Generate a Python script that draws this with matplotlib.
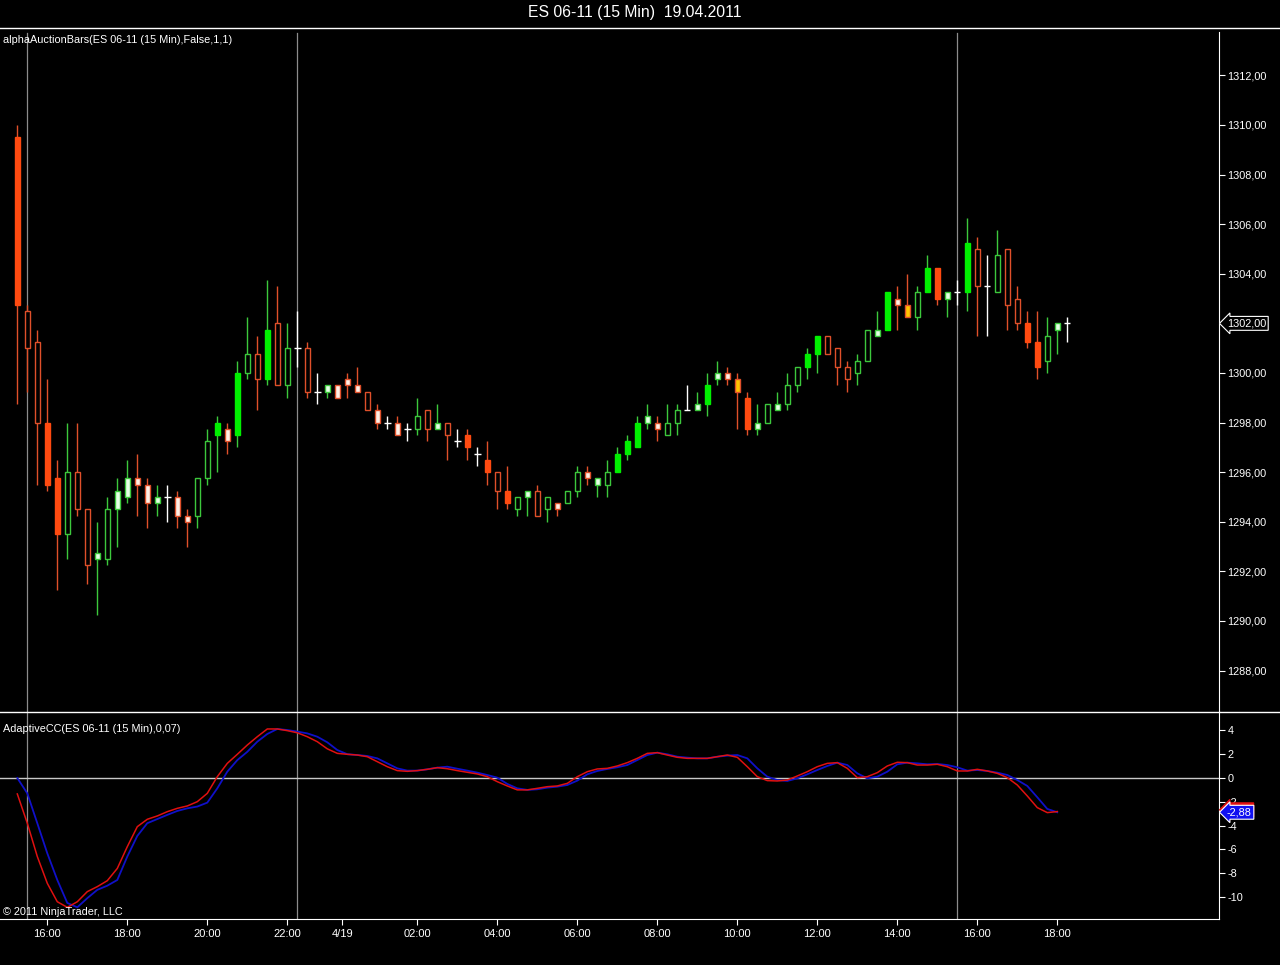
import numpy as np
import matplotlib
matplotlib.use("Agg")
import matplotlib.pyplot as plt
from matplotlib.lines import Line2D
import matplotlib.transforms as mtransforms

plt.rcParams['font.family'] = ['Liberation Sans', 'DejaVu Sans']

# ---------------- data ----------------
opens = [1309.5, 1302.5, 1301.25, 1298.0, 1295.75, 1293.5, 1296.0, 1294.5, 1292.5, 1292.5,
         1294.5, 1295.0, 1295.75, 1295.5, 1294.75, 1295.0, 1295.0, 1294.25, 1294.25, 1295.75,
         1297.5, 1297.75, 1297.5, 1300.0, 1300.75, 1299.75, 1302.0, 1299.5, 1301.0, 1301.0,
         1299.25, 1299.25, 1299.5, 1299.75, 1299.5, 1299.25, 1298.5, 1298.0, 1298.0, 1297.75,
         1297.75, 1298.5, 1297.75, 1298.0, 1297.25, 1297.5, 1296.75, 1296.5, 1296.0, 1295.25,
         1294.5, 1295.0, 1295.25, 1294.5, 1294.75, 1294.75, 1295.25, 1296.0, 1295.5, 1295.5,
         1296.0, 1296.75, 1297.0, 1298.0, 1298.0, 1297.5, 1298.0, 1298.5, 1298.5, 1298.75,
         1299.75, 1300.0, 1299.75, 1299.0, 1297.75, 1298.0, 1298.5, 1298.75, 1299.5, 1300.25,
         1300.75, 1301.5, 1301.0, 1300.25, 1300.0, 1300.5, 1301.5, 1301.75, 1303.0, 1302.75,
         1302.25, 1303.25, 1304.25, 1303.0, 1303.25, 1303.25, 1305.0, 1303.5, 1303.25, 1305.0,
         1303.0, 1302.0, 1301.25, 1300.5, 1301.75, 1302.0]
highs = [1310.0, 1302.75, 1301.75, 1299.75, 1296.5, 1298.0, 1298.0, 1294.5, 1294.0, 1295.0,
         1295.75, 1296.5, 1296.75, 1295.75, 1295.5, 1295.5, 1295.25, 1294.5, 1295.75, 1297.75,
         1298.25, 1298.0, 1300.5, 1302.25, 1301.5, 1303.75, 1303.5, 1302.0, 1302.5, 1301.25,
         1300.0, 1299.5, 1299.5, 1300.0, 1300.25, 1299.25, 1298.75, 1298.25, 1298.25, 1298.0,
         1299.0, 1298.5, 1298.75, 1298.0, 1297.75, 1297.75, 1297.0, 1297.25, 1296.0, 1296.25,
         1295.0, 1295.25, 1295.5, 1295.0, 1294.75, 1295.25, 1296.25, 1296.25, 1295.75, 1296.5,
         1297.0, 1297.5, 1298.25, 1298.75, 1298.25, 1298.75, 1298.75, 1299.5, 1299.25, 1300.0,
         1300.5, 1300.25, 1300.0, 1299.25, 1298.75, 1298.75, 1299.25, 1300.0, 1300.25, 1301.0,
         1301.5, 1301.5, 1301.0, 1300.5, 1300.75, 1301.75, 1302.5, 1303.25, 1303.5, 1304.0,
         1303.5, 1304.75, 1304.25, 1303.25, 1303.75, 1306.25, 1305.5, 1304.75, 1305.75, 1305.0,
         1303.5, 1302.5, 1302.5, 1302.25, 1302.0, 1302.25]
lows = [1298.75, 1299.25, 1295.5, 1295.25, 1291.25, 1292.5, 1294.25, 1291.5, 1290.25, 1292.25,
        1293.0, 1294.75, 1294.25, 1293.75, 1294.25, 1294.0, 1293.75, 1293.0, 1293.75, 1295.5,
        1296.0, 1296.75, 1297.0, 1299.75, 1298.5, 1299.5, 1299.5, 1299.0, 1300.25, 1299.0,
        1298.75, 1299.0, 1299.0, 1299.0, 1299.25, 1298.5, 1297.75, 1297.75, 1297.5, 1297.25,
        1297.5, 1297.25, 1297.75, 1296.5, 1297.0, 1296.5, 1296.25, 1295.5, 1294.5, 1294.5,
        1294.25, 1294.25, 1294.25, 1294.0, 1294.25, 1294.75, 1295.0, 1295.5, 1295.0, 1295.0,
        1296.0, 1296.5, 1297.0, 1297.75, 1297.25, 1297.5, 1297.5, 1298.5, 1298.5, 1298.25,
        1299.5, 1299.5, 1297.75, 1297.5, 1297.5, 1298.0, 1298.5, 1298.5, 1299.25, 1299.75,
        1300.0, 1300.75, 1299.5, 1299.25, 1299.5, 1300.5, 1301.5, 1301.75, 1301.75, 1302.25,
        1301.75, 1303.25, 1302.75, 1302.25, 1302.75, 1302.5, 1301.5, 1301.5, 1303.25, 1301.75,
        1301.75, 1301.0, 1299.75, 1300.0, 1300.75, 1301.25]
closes = [1302.75, 1301.0, 1298.0, 1295.5, 1293.5, 1296.0, 1294.5, 1292.25, 1292.75, 1294.5,
          1295.25, 1295.75, 1295.5, 1294.75, 1295.0, 1295.0, 1294.25, 1294.0, 1295.75, 1297.25,
          1298.0, 1297.25, 1300.0, 1300.75, 1299.75, 1301.75, 1299.5, 1301.0, 1301.0, 1299.25,
          1299.25, 1299.5, 1299.0, 1299.5, 1299.25, 1298.5, 1298.0, 1298.0, 1297.5, 1297.75,
          1298.25, 1297.75, 1298.0, 1297.5, 1297.25, 1297.0, 1296.75, 1296.0, 1295.25, 1294.75,
          1295.0, 1295.25, 1294.25, 1295.0, 1294.5, 1295.25, 1296.0, 1295.75, 1295.75, 1296.0,
          1296.75, 1297.25, 1298.0, 1298.25, 1297.75, 1298.0, 1298.5, 1298.5, 1298.75, 1299.5,
          1300.0, 1299.75, 1299.25, 1297.75, 1298.0, 1298.75, 1298.75, 1299.5, 1300.25, 1300.75,
          1301.5, 1300.75, 1300.25, 1299.75, 1300.5, 1301.75, 1301.75, 1303.25, 1302.75, 1302.25,
          1303.25, 1304.25, 1303.0, 1303.25, 1303.25, 1305.25, 1303.5, 1303.5, 1304.75, 1302.75,
          1302.0, 1301.25, 1300.25, 1301.5, 1302.0, 1302.0]
# bar styles: R filled red, r hollow red, G filled green, g hollow green,
# w light fill/green edge, p light fill/red edge, y yellow fill, d doji
styles = list("RrrRRgrrwgwwppwdppggGpGgrGrgdr"
              "dwpppr" "pdpdgrwrdRdRrRgwrgpggpwgGGGwpggdwGwpyRwgwggGGrrrgg"
              "wGpygGRwdGrdgrrRRgwd")

blue = [0.0, -1.29, -3.8, -6.33, -8.57, -10.5, -10.87, -10.1, -9.4, -9.05,
        -8.57, -6.6, -4.87, -3.8, -3.45, -3.1, -2.77, -2.55, -2.4, -2.07,
        -0.87, 0.53, 1.5, 2.2, 3.05, 3.7, 4.12, 4.03, 3.9, 3.75,
        3.47, 3.0, 2.35, 2.0, 1.93, 1.85, 1.65, 1.23, 0.81, 0.62,
        0.62, 0.73, 0.87, 0.95, 0.78, 0.62, 0.45, 0.25, 0.03, -0.5,
        -0.87, -1.0, -0.95, -0.81, -0.73, -0.59, -0.22, 0.31, 0.59, 0.76,
        0.9, 1.09, 1.51, 1.93, 2.13, 1.99, 1.79, 1.71, 1.65, 1.65,
        1.79, 1.88, 1.93, 1.65, 0.81, 0.11, -0.17, -0.25, -0.03, 0.31,
        0.67, 1.01, 1.29, 1.09, 0.39, -0.03, 0.11, 0.53, 1.15, 1.29,
        1.23, 1.15, 1.18, 1.09, 0.9, 0.62, 0.67, 0.59, 0.45, 0.25,
        -0.17, -0.67, -1.62, -2.6, -2.88]
red = [-1.34, -3.8, -6.6, -8.85, -10.4, -10.87, -10.4, -9.55, -9.13, -8.63,
       -7.6, -5.77, -4.09, -3.47, -3.19, -2.83, -2.55, -2.35, -1.99, -1.29,
       0.11, 1.23, 1.99, 2.77, 3.47, 4.12, 4.12, 3.98, 3.8, 3.47,
       3.05, 2.45, 2.07, 1.99, 1.93, 1.79, 1.37, 0.95, 0.62, 0.56,
       0.62, 0.73, 0.87, 0.78, 0.62, 0.48, 0.34, 0.11, -0.31, -0.67,
       -1.0, -1.0, -0.87, -0.73, -0.67, -0.45, 0.11, 0.53, 0.76, 0.81,
       1.01, 1.29, 1.65, 2.07, 2.13, 1.93, 1.74, 1.65, 1.65, 1.65,
       1.79, 1.93, 1.74, 0.95, 0.11, -0.22, -0.25, -0.17, 0.17, 0.53,
       0.95, 1.23, 1.29, 0.81, 0.03, 0.11, 0.45, 1.01, 1.32, 1.29,
       1.09, 1.09, 1.15, 0.95, 0.59, 0.59, 0.73, 0.59, 0.39, 0.03,
       -0.59, -1.51, -2.49, -2.91, -2.82]

session_breaks = [1, 28, 94]
xtick_pos = [3, 11, 19, 27, 32.5, 40, 48, 56, 64, 72, 80, 88, 96, 104]
xtick_labels = ["16:00", "18:00", "20:00", "22:00", "4/19", "02:00", "04:00", "06:00",
                "08:00", "10:00", "12:00", "14:00", "16:00", "18:00"]
price_ticks = list(range(1288, 1313, 2))
ind_ticks = [4, 2, 0, -2, -4, -6, -8, -10]

# ---------------- figure ----------------
W, H = 1280, 965
fig = plt.figure(figsize=(W / 100, H / 100), dpi=100, facecolor='black')

def fy(y):
    return 1 - y / H

ax1 = fig.add_axes([0, fy(711), 1219 / W, 684 / H], facecolor='black')
ax2 = fig.add_axes([0, fy(919), 1219 / W, 208 / H], facecolor='black')

RED_F = '#FF4A10'
RED_E = '#E0502A'
GRN_F = '#00F000'
GRN_E = '#3CC83C'
face_map = {'R': RED_F, 'r': '#000000', 'G': GRN_F, 'g': '#000000',
            'w': '#E6FFE6', 'p': '#FFF0E6', 'y': '#FFC400', 'd': 'white'}
edge_map = {'R': RED_F, 'r': RED_E, 'G': GRN_F, 'g': GRN_E,
            'w': GRN_E, 'p': RED_E, 'y': RED_E, 'd': 'white'}
wick_map = {'R': RED_E, 'r': RED_E, 'G': GRN_E, 'g': GRN_E,
            'w': GRN_E, 'p': RED_E, 'y': RED_E, 'd': 'white'}

o = np.array(opens); h = np.array(highs); l = np.array(lows); c = np.array(closes)
x = np.arange(len(o))
st = np.array(styles)

# session lines
for b in session_breaks:
    ax1.axvline(b, ymin=0, ymax=(711 - 33) / 684, color='#8C8C8C', lw=0.9, zorder=1)
    ax2.axvline(b, color='#8C8C8C', lw=0.9, zorder=1)

# wicks
ax1.vlines(x, l, h, colors=[wick_map[s] for s in st], lw=1.0, zorder=2)
# bodies
nd = st != 'd'
ax1.bar(x[nd], np.abs(c - o)[nd], bottom=np.minimum(o, c)[nd], width=0.45,
        color=[face_map[s] for s in st[nd]], edgecolor=[edge_map[s] for s in st[nd]],
        linewidth=1.0, zorder=3)
# dojis
dd = ~nd
ax1.hlines(o[dd], x[dd] - 0.32, x[dd] + 0.32, colors='white', lw=1.0, zorder=3)

ax1.set_xlim(-1.73, 120.17)
ax1.set_ylim(1286.37, 1313.95)
ax2.set_xlim(-1.73, 120.17)
ax2.set_ylim(-11.85, 5.63)

# indicator
xi = np.arange(len(blue))
ax2.axhline(0, color='#C8C8C8', lw=1.0, zorder=1)
ax2.plot(xi, blue, color='#1010C8', lw=1.3, zorder=3)
ax2.plot(xi, red, color='#E01010', lw=1.1, zorder=4)

# axes styling
for ax in (ax1, ax2):
    for sp in ax.spines.values():
        sp.set_visible(False)
    ax.spines['right'].set_visible(True)
    ax.spines['right'].set_color('white')
    ax.yaxis.tick_right()
    ax.tick_params(axis='y', colors='white', length=4.5, width=0.8, labelsize=7.8, pad=1.5)
ax2.spines['bottom'].set_visible(True)
ax2.spines['bottom'].set_color('white')
ax1.spines['right'].set_bounds(1286.37, 1313.75)

ax1.set_xticks([])
ax1.set_yticks(price_ticks)
ax1.set_yticklabels([f"{p},00" for p in price_ticks])
ax2.set_yticks(ind_ticks)
ax2.set_yticklabels([str(t) for t in ind_ticks])
ax2.set_xticks(xtick_pos)
ax2.set_xticklabels(xtick_labels)
ax2.tick_params(axis='x', colors='white', length=4.5, width=0.8, labelsize=8, pad=3)

# horizontal separators
fig.add_artist(Line2D([0, 1], [fy(27.5), fy(27.5)], color='white', lw=1.0))
fig.add_artist(Line2D([0, 1], [fy(711.5), fy(711.5)], color='white', lw=1.0))

# texts
fig.text(635 / W, fy(13), "ES 06-11 (15 Min)  19.04.2011", color='white', fontsize=11.3,
         ha='center', va='center')
fig.text(3 / W, fy(40), "alphaAuctionBars(ES 06-11 (15 Min),False,1,1)", color='white',
         fontsize=7.8, ha='left', va='center')
fig.text(3 / W, fy(729), "AdaptiveCC(ES 06-11 (15 Min),0,07)", color='white',
         fontsize=7.8, ha='left', va='center')
fig.text(3 / W, fy(912), "\u00a9 2011 NinjaTrader, LLC", color='white',
         fontsize=7.8, ha='left', va='center')

# last-value labels
tr1 = mtransforms.blended_transform_factory(ax1.transAxes, ax1.transData)
ax1.text(1.0 + 8 / 1219, closes[-1], f"{closes[-1]:.2f}".replace('.', ','), transform=tr1,
         color='white', fontsize=7.8, ha='left', va='center', zorder=10, clip_on=False,
         bbox=dict(boxstyle='larrow,pad=0.18', fc='black', ec='white', lw=0.8))
tr2 = mtransforms.blended_transform_factory(ax2.transAxes, ax2.transData)
ax2.text(1.0 + 8 / 1219, red[-1] + 0.15, f"{red[-1]:.2f}".replace('.', ','), transform=tr2,
         color='white', fontsize=7.8, ha='left', va='center', zorder=10, clip_on=False,
         bbox=dict(boxstyle='larrow,pad=0.18', fc='#E01010', ec='#E01010', lw=0.8))
ax2.text(1.0 + 8 / 1219, blue[-1], f"{blue[-1]:.2f}".replace('.', ','), transform=tr2,
         color='white', fontsize=7.8, ha='left', va='center', zorder=11, clip_on=False,
         bbox=dict(boxstyle='larrow,pad=0.18', fc='#1010F0', ec='white', lw=0.8))

fig.savefig("out.png", dpi=100, facecolor='black')
